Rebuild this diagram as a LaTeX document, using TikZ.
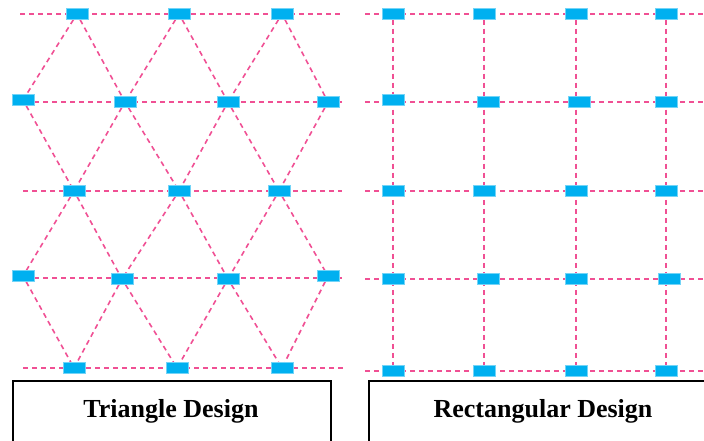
\documentclass[tikz,border=0pt]{standalone}
\usepackage{fontspec}
\setmainfont{Liberation Serif}
\usetikzlibrary{backgrounds}
\definecolor{padblue}{RGB}{0,176,240}
\definecolor{linkpink}{RGB}{240,80,148}
\tikzset{pad/.style={fill=padblue,draw=padblue!55,line width=0.5pt,minimum width=22pt,minimum height=11pt,inner sep=0pt},
  link/.style={linkpink,line width=1.6pt,dash pattern=on 5pt off 4pt},
  capbox/.style={draw,line width=1.5pt},
  captext/.style={anchor=base,font=\fontsize{26}{30}\selectfont\bfseries}}

\begin{document}
\begin{tikzpicture}[x=1pt,y=-1pt]
\useasboundingbox (0,0) rectangle (704,441);
% triangle design
\foreach \n/\x/\y in {a1/77/14, a2/179/14, a3/282/14, b1/23/100, b2/125/102, b3/228/102, b4/328/102, c1/74/191, c2/179/191, c3/279/191, d1/23/276, d2/122/279, d3/228/279, d4/328/276, e1/74/368, e2/177/368, e3/282/368} { \node[pad] (t\n) at (\x,\y) {}; };
\foreach \r/\xa/\xb/\y in {a/20/342/14, c/23/342/191, e/23/343/368} { \coordinate (t\r L) at (\xa,\y); \coordinate (t\r R) at (\xb,\y); };
\coordinate (tbR) at (342,102); \coordinate (tdR) at (342,278);
\begin{pgfonlayer}{background}
\foreach \r in {a,c,e} { \draw[link] (t\r L) -- (t\r R); };
\draw[link] (tbR -| tb1.east) -- (tbR); \draw[link] (tdR -| td1.east) -- (tdR);
\foreach \p/\q in {a1/b1, a1/b2, a2/b2, a2/b3, a3/b3, a3/b4, b1/c1, b2/c1, b2/c2, b3/c2, b3/c3, b4/c3, c1/d1, c1/d2, c2/d2, c2/d3, c3/d3, c3/d4, d1/e1, d2/e1, d2/e2, d3/e2, d3/e3, d4/e3} { \draw[link] (t\p) -- (t\q); };
\end{pgfonlayer}
% rectangular design
\foreach \n/\x/\y in {11/393/14, 12/484/14, 13/576/14, 14/666/14, 21/393/100, 22/488/102, 23/579/102, 24/666/102, 31/393/191, 32/484/191, 33/576/191, 34/666/191, 41/393/279, 42/488/279, 43/576/279, 44/669/279, 51/393/371, 52/484/371, 53/576/371, 54/666/371} { \node[pad] (r\n) at (\x,\y) {}; };
\foreach \r/\y in {1/14, 2/102, 3/191, 4/279, 5/371} { \coordinate (r\r L) at (365,\y); \coordinate (r\r R) at (704,\y); };
\begin{pgfonlayer}{background}
\foreach \r in {1,...,5} { \draw[link] (r\r L) -- (r\r R); };
\foreach \c in {1,...,4} { \draw[link] (r1\c) -- (r5\c); };
\end{pgfonlayer}
% captions
\draw[capbox] (13,381) rectangle (331,450); \node[captext] (tricap) at (171,417) {Triangle Design};
\draw[capbox] (369,381) rectangle (712,450); \node[captext] (rectcap) at (543,417) {Rectangular Design};
\end{tikzpicture}
\end{document}
